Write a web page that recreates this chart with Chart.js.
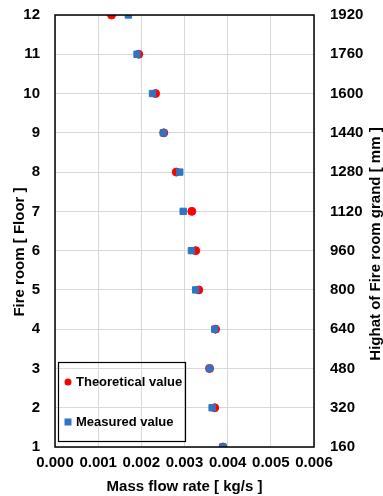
<!DOCTYPE html>
<html>
<head>
<meta charset="utf-8">
<script src="https://cdn.jsdelivr.net/npm/chart.js@4"></script>
<style>
  html, body { margin: 0; padding: 0; background: #fff; }
  #wrap { width: 383px; height: 496px; }
</style>
</head>
<body>
<div id="wrap"><canvas id="flowChartID"></canvas></div>
<script>
// floors and measured / theoretical mass flow rate [kg/s]
var floors = [1, 2, 3, 4, 5, 6, 7, 8, 9, 10, 11, 12];
var theoretical_flow = [0.00389, 0.00370, 0.00358, 0.00372, 0.00333, 0.00326, 0.00317, 0.00281, 0.00252, 0.00233, 0.00194, 0.00131];
var measured_flow = [0.00389, 0.00364, 0.00358, 0.00370, 0.00326, 0.00316, 0.00297, 0.00289, 0.00251, 0.00226, 0.00190, 0.00170];
var height_ticks = [160, 320, 480, 640, 800, 960, 1120, 1280, 1440, 1600, 1760, 1920];
var x_ticks = [0, 0.001, 0.002, 0.003, 0.004, 0.005, 0.006];

var series_labels = ['Theoretical value', 'Measured value'];
var tick_font = { family: 'Liberation Sans', size: 15, weight: 'bold' };
var title_font = 'bold 15px "Liberation Sans"';
var legend_font = 'bold 13px "Liberation Sans"';

function to_points(values) {
    var pts = [];
    for (var i = 0; i < floors.length; i++) {
        pts.push({ x: values[i], y: floors[i] });
    }
    return pts;
}

function fit_vertical(width) {
    return function(scale) {
        scale.width = width;
        scale.paddingTop = 0;
        scale.paddingBottom = 0;
    };
}

// frame, legend box and the two vertical axis titles
var frame_plugin = {
    id: 'frame_plugin',
    afterDraw: function(chart) {
        var ctx = chart.ctx;
        var a = chart.chartArea;
        ctx.save();
        ctx.strokeStyle = '#000';
        ctx.lineWidth = 1.5;
        ctx.strokeRect(a.left, a.top, a.right - a.left, a.bottom - a.top);

        // legend
        ctx.lineWidth = 1.2;
        ctx.strokeRect(58.5, 362.5, 127, 79);
        ctx.font = legend_font;
        ctx.textBaseline = 'middle';
        var ds = chart.data.datasets;
        var rows = [382, 422];
        for (var i = 0; i < ds.length; i++) {
            ctx.fillStyle = ds[i].backgroundColor;
            if (ds[i].pointStyle == 'rect') {
                ctx.fillRect(64.5, rows[i] - 3.5, 7, 7);
            } else {
                ctx.beginPath();
                ctx.arc(68, rows[i], 3.5, 0, Math.PI * 2);
                ctx.fill();
            }
            ctx.fillStyle = '#000';
            ctx.textAlign = 'left';
            ctx.fillText(ds[i].label, 76, rows[i]);
        }

        // axis titles, both read bottom to top
        ctx.font = title_font;
        ctx.textAlign = 'center';
        ctx.translate(20, 252);
        ctx.rotate(-Math.PI / 2);
        ctx.fillText('Fire room [ Floor ]', 0, 0);
        ctx.restore();

        ctx.save();
        ctx.font = title_font;
        ctx.fillStyle = '#000';
        ctx.textAlign = 'center';
        ctx.textBaseline = 'middle';
        ctx.translate(376, 244);
        ctx.rotate(-Math.PI / 2);
        ctx.fillText('Highat of Fire room grand [ mm ]', 0, 0);
        ctx.restore();
    }
};

var flow_chart_config = {
    type: 'scatter',
    data: {
        datasets: [
            {
                label: series_labels[0],
                data: to_points(theoretical_flow),
                backgroundColor: '#ff0000',
                borderColor: '#ff0000',
                pointStyle: 'circle',
                pointRadius: 4,
                order: 1
            },
            {
                label: series_labels[1],
                data: to_points(measured_flow),
                backgroundColor: '#2e75c4',
                borderColor: '#2e75c4',
                pointStyle: 'rect',
                pointRadius: 4.5,
                order: 0
            }
        ]
    },
    options: {
        responsive: true,
        maintainAspectRatio: false,
        animation: false,
        layout: { padding: { top: 15 } },
        plugins: {
            legend: { display: false },
            tooltip: { enabled: false }
        },
        scales: {
            x: {
                type: 'linear',
                min: 0,
                max: 0.006,
                afterBuildTicks: function(scale) {
                    scale.ticks = x_ticks.map(function(v) { return { value: v }; });
                },
                afterFit: function(scale) { scale.height = 49; },
                grid: { color: '#d9d9d9', drawTicks: false },
                border: { display: false },
                ticks: {
                    color: '#000',
                    font: tick_font,
                    padding: 7,
                    maxRotation: 0,
                    autoSkip: false,
                    callback: function(v) { return v.toFixed(3); }
                },
                title: {
                    display: true,
                    text: 'Mass flow rate [ kg/s ]',
                    color: '#000',
                    font: { family: 'Liberation Sans', size: 15, weight: 'bold' },
                    padding: 0
                }
            },
            y: {
                type: 'linear',
                position: 'left',
                min: 1,
                max: 12,
                afterFit: fit_vertical(55),
                grid: { color: '#d9d9d9', drawTicks: false },
                border: { display: false },
                ticks: {
                    stepSize: 1,
                    color: '#000',
                    font: tick_font,
                    padding: 15
                }
            },
            y2: {
                type: 'linear',
                position: 'right',
                min: 160,
                max: 1920,
                afterBuildTicks: function(scale) {
                    scale.ticks = height_ticks.map(function(v) { return { value: v }; });
                },
                afterFit: fit_vertical(69),
                grid: { display: false, drawTicks: false },
                border: { display: false },
                ticks: {
                    color: '#000',
                    font: tick_font,
                    padding: 16,
                    callback: function(v) { return String(v); }
                }
            }
        }
    },
    plugins: [frame_plugin]
};

var myContext = document.getElementById('flowChartID');
var myChart = new Chart(myContext, flow_chart_config);
</script>
</body>
</html>
